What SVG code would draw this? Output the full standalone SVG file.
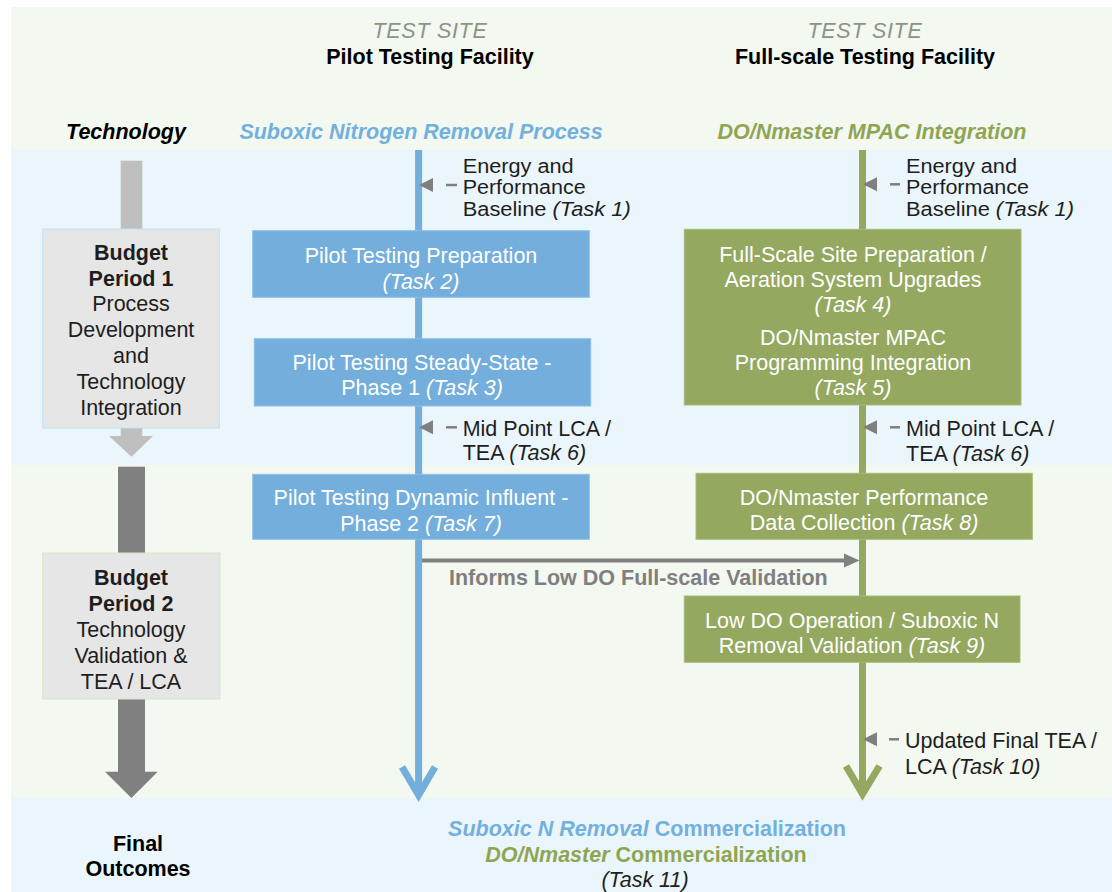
<svg xmlns="http://www.w3.org/2000/svg" width="1112" height="892" viewBox="0 0 1112 892">
<defs>
<style>
text{font-family:"Liberation Sans",Arial,sans-serif;font-size:21.5px;fill:#1e1e1e}
.c{text-anchor:middle}
.b{font-weight:bold}
.i{font-style:italic}
.w{fill:#ffffff}
.sm{font-size:20px}
.bluebox{fill:#73aedc;stroke:#8cc0e6;stroke-width:1}
.greenbox{fill:#94a85f;stroke:#a8bb78;stroke-width:1}
.note{fill:#7f7f7f}
.dash{stroke:#7f7f7f;stroke-width:2.5}
</style>
</defs>
<!-- background bands -->
<g id="background">
<rect x="11" y="7" width="1101" height="143" fill="#f3f8f0"/>
<rect x="11" y="150" width="1101" height="315" fill="#eaf6fb"/>
<rect x="11" y="465" width="1101" height="333" fill="#f3f8f0"/>
<rect x="11" y="798" width="1101" height="94" fill="#eaf6fb"/>
</g>
<!-- headers -->
<g id="header-pilot">
<text class="c i" x="430" y="38" style="fill:#8a9486;letter-spacing:0.7px">TEST SITE</text>
<text class="c b" x="430" y="64" style="fill:#000">Pilot Testing Facility</text>
</g>
<g id="header-full">
<text class="c i" x="865" y="38" style="fill:#8a9486;letter-spacing:0.7px">TEST SITE</text>
<text class="c b" x="865" y="64" style="fill:#000">Full-scale Testing Facility</text>
</g>
<g id="row-technology">
<text class="c b i" x="126" y="139" style="fill:#000">Technology</text>
<text class="c b i" x="421" y="139" style="fill:#72b0de">Suboxic Nitrogen Removal Process</text>
<text class="c b i" x="872" y="139" style="fill:#8fa553">DO/Nmaster MPAC Integration</text>
</g>
<!-- timeline arrows on left -->
<g id="period1-arrow">
<rect x="120.7" y="160.7" width="21.6" height="276" fill="#bfbfbf"/>
<polygon points="109,436 153,436 131.5,456.7" fill="#bfbfbf"/>
</g>
<g id="period2-arrow">
<rect x="118" y="466.7" width="27" height="306" fill="#808080"/>
<polygon points="105,771.7 157.7,771.7 131.4,798" fill="#808080"/>
</g>
<g id="budget-period-1">
<rect x="42.7" y="229" width="176.6" height="199" fill="#e6e6e6" stroke="#bfe2f2" stroke-width="1"/>
<text class="c b" x="131" y="259.5">Budget</text>
<text class="c b" x="131" y="285.5">Period 1</text>
<text class="c" x="131" y="311">Process</text>
<text class="c" x="131" y="337">Development</text>
<text class="c" x="131" y="363">and</text>
<text class="c" x="131" y="389">Technology</text>
<text class="c" x="131" y="415">Integration</text>
</g>
<g id="budget-period-2">
<rect x="42.7" y="553" width="177.3" height="146" fill="#e6e6e6" stroke="#d5e6c8" stroke-width="1"/>
<text class="c b" x="131" y="585">Budget</text>
<text class="c b" x="131" y="611">Period 2</text>
<text class="c" x="131" y="637">Technology</text>
<text class="c" x="131" y="663">Validation &amp;</text>
<text class="c" x="131" y="689">TEA / LCA</text>
</g>
<!-- connectors -->
<g id="connectors">
<line x1="418.6" y1="150" x2="418.6" y2="794" stroke="#73aedc" stroke-width="7"/>
<polyline points="402,767 418.6,795 435,767" fill="none" stroke="#73aedc" stroke-width="7" stroke-linejoin="miter"/>
<line x1="862.5" y1="150" x2="862.5" y2="793" stroke="#94a85f" stroke-width="7"/>
<polyline points="846,766 862.5,794 879.5,766" fill="none" stroke="#94a85f" stroke-width="7" stroke-linejoin="miter"/>
<line x1="422" y1="560.5" x2="846" y2="560.5" stroke="#808080" stroke-width="4"/>
<polygon points="844,553.5 859.5,560.5 844,567.5" fill="#808080"/>
<!-- small input arrows -->
<polygon class="note" points="419,185 433,178 433,192"/>
<line class="dash" x1="446" y1="185" x2="457" y2="185"/>
<polygon class="note" points="419,427.3 433,420.3 433,434.3"/>
<line class="dash" x1="446" y1="427.3" x2="457" y2="427.3"/>
<polygon class="note" points="863,184.3 877,177.3 877,191.3"/>
<line class="dash" x1="890" y1="184.3" x2="900" y2="184.3"/>
<polygon class="note" points="863,427.3 877,420.3 877,434.3"/>
<line class="dash" x1="890" y1="427.3" x2="900" y2="427.3"/>
<polygon class="note" points="863,739.3 877,732.3 877,746.3"/>
<line class="dash" x1="889" y1="739.3" x2="899" y2="739.3"/>
<text class="b" x="449" y="585" style="fill:#7f7f7f">Informs Low DO Full-scale Validation</text>
</g>
<!-- annotations -->
<g id="note-task1-pilot">
<text class="sm" x="462.7" y="172.5" textLength="111" lengthAdjust="spacingAndGlyphs">Energy and</text>
<text class="sm" x="462.7" y="194" textLength="123" lengthAdjust="spacingAndGlyphs">Performance</text>
<text class="sm" x="462.7" y="215.5" textLength="168" lengthAdjust="spacingAndGlyphs">Baseline <tspan class="i">(Task 1)</tspan></text>
</g>
<g id="note-task6-pilot">
<text x="462.7" y="436">Mid Point LCA /</text>
<text x="462.7" y="460">TEA <tspan class="i">(Task 6)</tspan></text>
</g>
<g id="note-task1-full">
<text class="sm" x="906" y="172.5" textLength="111" lengthAdjust="spacingAndGlyphs">Energy and</text>
<text class="sm" x="906" y="194" textLength="123" lengthAdjust="spacingAndGlyphs">Performance</text>
<text class="sm" x="906" y="215.5" textLength="168" lengthAdjust="spacingAndGlyphs">Baseline <tspan class="i">(Task 1)</tspan></text>
</g>
<g id="note-task6-full">
<text x="906" y="436">Mid Point LCA /</text>
<text x="906" y="460.5">TEA <tspan class="i">(Task 6)</tspan></text>
</g>
<g id="note-task10">
<text x="905" y="747.5">Updated Final TEA /</text>
<text x="905" y="773.5">LCA <tspan class="i">(Task 10)</tspan></text>
</g>
<!-- pilot boxes -->
<g id="task2">
<rect class="bluebox" x="252.7" y="230.7" width="336.6" height="66.6"/>
<text class="c w" x="421" y="263">Pilot Testing Preparation</text>
<text class="c w i" x="421" y="288.5">(Task 2)</text>
</g>
<g id="task3">
<rect class="bluebox" x="254.3" y="338.7" width="336.4" height="67.3"/>
<text class="c w" x="422" y="369.5">Pilot Testing Steady-State -</text>
<text class="c w" x="422" y="395">Phase 1 <tspan class="i">(Task 3)</tspan></text>
</g>
<g id="task7">
<rect class="bluebox" x="252.7" y="474.3" width="336.6" height="65"/>
<text class="c w" x="421" y="505">Pilot Testing Dynamic Influent -</text>
<text class="c w" x="421" y="530.5">Phase 2 <tspan class="i">(Task 7)</tspan></text>
</g>
<!-- full-scale boxes -->
<g id="task4-5">
<rect class="greenbox" x="684.3" y="229.3" width="336.7" height="175.7"/>
<text class="c w" x="853" y="262">Full-Scale Site Preparation /</text>
<text class="c w" x="853" y="287">Aeration System Upgrades</text>
<text class="c w i" x="853" y="312">(Task 4)</text>
<text class="c w" x="853" y="344.5">DO/Nmaster MPAC</text>
<text class="c w" x="853" y="370">Programming Integration</text>
<text class="c w i" x="853" y="395">(Task 5)</text>
</g>
<g id="task8">
<rect class="greenbox" x="696" y="473.3" width="336.3" height="66"/>
<text class="c w" x="864" y="504.5">DO/Nmaster Performance</text>
<text class="c w" x="864" y="530">Data Collection <tspan class="i">(Task 8)</tspan></text>
</g>
<g id="task9">
<rect class="greenbox" x="684.3" y="596" width="335.7" height="66.3"/>
<text class="c w" x="852" y="627.7">Low DO Operation / Suboxic N</text>
<text class="c w" x="852" y="652.7">Removal Validation <tspan class="i">(Task 9)</tspan></text>
</g>
<!-- final outcomes -->
<g id="final-outcomes">
<text class="c b" x="138" y="851" style="fill:#000">Final</text>
<text class="c b" x="138" y="876" style="fill:#000">Outcomes</text>
<text class="c b" x="647" y="836" style="fill:#72b0de"><tspan class="i">Suboxic N Removal</tspan> Commercialization</text>
<text class="c b" x="646" y="861.5" style="fill:#8fa553"><tspan class="i">DO/Nmaster</tspan> Commercialization</text>
<text class="c i" x="645" y="886.5">(Task 11)</text>
</g>
</svg>
